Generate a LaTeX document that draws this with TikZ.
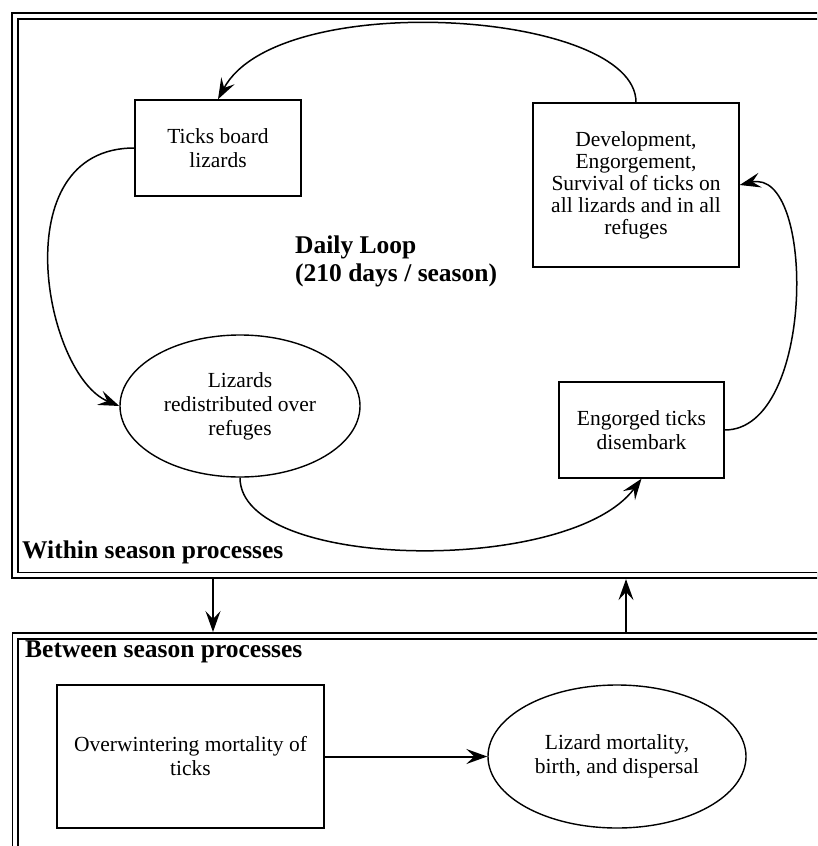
\documentclass[tikz,border=0pt]{standalone}
\usepackage{fontspec}
\setmainfont{Liberation Serif}
\usetikzlibrary{arrows.meta,shapes.geometric}

\tikzset{
  box/.style={draw, rectangle, line width=1.4pt, inner sep=0pt, align=center,
    font=\fontsize{21.5}{24}\selectfont},
  oval/.style={box, ellipse},
  frame/.style={draw, double, double distance=4pt, line width=1.8pt,
    inner sep=0pt, outer sep=3.8pt, anchor=north west},
  title/.style={inner sep=0pt, font=\bfseries\fontsize{25.5}{28}\selectfont},
  arr/.style={-{Stealth[length=21pt,width=15pt,inset=8pt]}, line width=1.5pt},
}

\begin{document}
\begin{tikzpicture}[x=1pt,y=-1pt]
  \useasboundingbox (0,0) rectangle (817,846);
  \clip (0,0) rectangle (817,846);

  % frames
  \node[frame, minimum width=900pt, minimum height=559.5pt] (within) at (11,12) {};
  \node[frame, minimum width=900pt, minimum height=300pt] (between) at (11.5,632) {};
  \node[title, anchor=base west] (wlabel) at (22,558) {Within season processes};
  \node[title, anchor=base west] (blabel) at (25,657) {Between season processes};

  % daily loop
  \node[box, minimum width=166pt, minimum height=96pt] (board) at (218,148) {Ticks board\\lizards};
  \node[box, minimum width=206pt, minimum height=164pt, font=\fontsize{21.5}{22}\selectfont]
    (devel) at (636,185) {Development,\\Engorgement,\\Survival of ticks on\\all lizards and in all\\refuges};
  \node[oval, minimum width=240pt, minimum height=142pt] (redist) at (240,406) {Lizards\\redistributed over\\refuges};
  \node[box, minimum width=165pt, minimum height=96pt] (disemb) at (641.5,430) {Engorged ticks\\disembark};
  \node[title, align=left, anchor=west] (loop) at (295,261) {Daily Loop\\(210 days / season)};

  % between seasons
  \node[box, minimum width=267pt, minimum height=143pt] (winter) at (190.5,756.5) {Overwintering mortality of\\ticks};
  \node[oval, minimum width=258pt, minimum height=143pt] (lizmort) at (617,756.5) {Lizard mortality,\\birth, and dispersal};

  \coordinate (down) at (213,600);
  \coordinate (up) at (626,600);

  \begin{scope}[arr]
    \draw (devel.north) .. controls +(0,-92) and +(60,-112) .. (board.north);
    \draw (board.west) .. controls +(-132,0) and +(-75,-31) .. (redist.west);
    \draw (redist.south) .. controls +(0,93) and +(-72,97) .. (disemb.south);
    \draw (disemb.east) .. controls +(91,0) and +(76,-18) .. (devel.east);
    \draw (within.south -| down) -- (between.north -| down);
    \draw (between.north -| up) -- (within.south -| up);
    \draw[line width=2pt] (winter) -- (lizmort);
  \end{scope}
\end{tikzpicture}
\end{document}
